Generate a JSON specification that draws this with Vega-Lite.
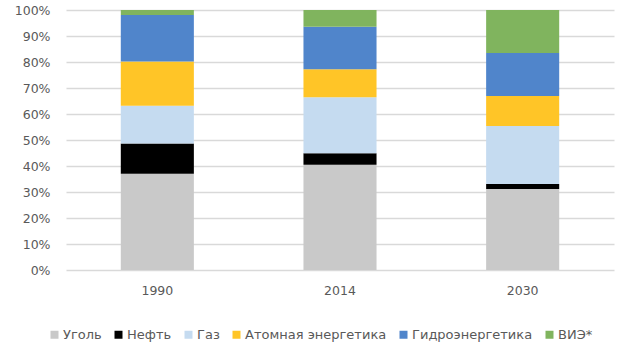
{
  "$schema": "https://vega.github.io/schema/vega-lite/v6.json",
  "width": 548,
  "height": 260,
  "autosize": "none",
  "padding": {"left": 66, "top": 10, "right": 16, "bottom": 85},
  "background": "white",
  "config": {"view": {"stroke": null}, "font": "DejaVu Sans"},
  "data": {
    "values": [
      {"year": "1990", "source": "Уголь", "share": 37.0},
      {"year": "1990", "source": "Нефть", "share": 11.7},
      {"year": "1990", "source": "Газ", "share": 14.5},
      {"year": "1990", "source": "Атомная энергетика", "share": 17.0},
      {"year": "1990", "source": "Гидроэнергетика", "share": 17.9},
      {"year": "1990", "source": "ВИЭ*", "share": 1.9},
      {"year": "2014", "source": "Уголь", "share": 40.5},
      {"year": "2014", "source": "Нефть", "share": 4.4},
      {"year": "2014", "source": "Газ", "share": 21.5},
      {"year": "2014", "source": "Атомная энергетика", "share": 10.8},
      {"year": "2014", "source": "Гидроэнергетика", "share": 16.4},
      {"year": "2014", "source": "ВИЭ*", "share": 6.4},
      {"year": "2030", "source": "Уголь", "share": 31.2},
      {"year": "2030", "source": "Нефть", "share": 1.9},
      {"year": "2030", "source": "Газ", "share": 22.3},
      {"year": "2030", "source": "Атомная энергетика", "share": 11.5},
      {"year": "2030", "source": "Гидроэнергетика", "share": 16.6},
      {"year": "2030", "source": "ВИЭ*", "share": 16.5}
    ]
  },
  "transform": [
    {"calculate": "indexof(['Уголь', 'Нефть', 'Газ', 'Атомная энергетика', 'Гидроэнергетика', 'ВИЭ*'], datum.source)", "as": "stackOrder"}
  ],
  "mark": {"type": "bar"},
  "encoding": {
    "x": {
      "field": "year",
      "type": "nominal",
      "scale": {"paddingInner": 0.6, "paddingOuter": 0.3},
      "axis": {
        "title": null,
        "labelAngle": 0,
        "domain": false,
        "ticks": false,
        "grid": false,
        "labelPadding": 14,
        "labelFontSize": 12.5,
        "labelColor": "#595959"
      }
    },
    "y": {
      "field": "share",
      "type": "quantitative",
      "stack": "normalize",
      "scale": {"domain": [0, 1]},
      "axis": {
        "title": null,
        "format": ".0%",
        "values": [0, 0.1, 0.2, 0.3, 0.4, 0.5, 0.6, 0.7, 0.8, 0.9, 1],
        "domain": false,
        "ticks": false,
        "labelPadding": 16,
        "labelFontSize": 12.5,
        "labelColor": "#595959",
        "gridColor": "#d9d9d9",
        "gridWidth": 1.5
      }
    },
    "color": {
      "field": "source",
      "type": "nominal",
      "sort": ["Уголь", "Нефть", "Газ", "Атомная энергетика", "Гидроэнергетика", "ВИЭ*"],
      "scale": {
        "domain": ["Уголь", "Нефть", "Газ", "Атомная энергетика", "Гидроэнергетика", "ВИЭ*"],
        "range": ["#c9c9c9", "#000000", "#c5dbf0", "#ffc527", "#5085cb", "#80b45e"]
      },
      "legend": {
        "title": null,
        "orient": "none",
        "direction": "horizontal",
        "legendX": -18,
        "legendY": 318,
        "symbolType": "square",
        "symbolSize": 64,
        "symbolStrokeWidth": 0,
        "labelFontSize": 13,
        "labelColor": "#595959",
        "labelOffset": 2,
        "columnPadding": 10
      }
    },
    "order": {"field": "stackOrder", "type": "quantitative", "sort": "ascending"}
  }
}
